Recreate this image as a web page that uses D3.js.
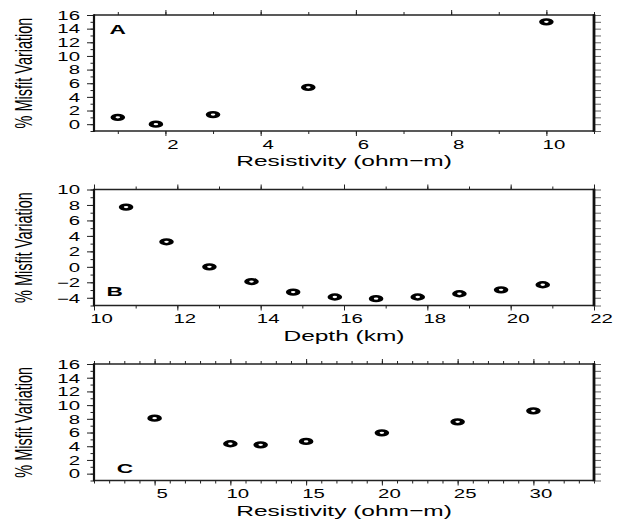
<!DOCTYPE html>
<html>
<head>
<meta charset="utf-8">
<script src="https://cdn.jsdelivr.net/npm/d3@7"></script>
<style>
body { margin: 0; background: #fff; }
svg text { font-family: "Liberation Sans", Arial, Helvetica, sans-serif; fill: #000; }
.tick line { stroke: #222; }
</style>
</head>
<body>
<script>
// data
var resA = [1.0, 1.8, 3.0, 5.0, 10.0],
    misfitA = [1.0, 0.0, 1.4, 5.4, 15.0];

var depthB = [10.77, 11.74, 12.77, 13.78, 14.78, 15.78, 16.77, 17.77, 18.77, 19.77, 20.77],
    misfitB = [7.73, 3.24, 0.0, -1.9, -3.27, -3.9, -4.12, -3.9, -3.48, -2.97, -2.32];

var resC = [5, 10, 12, 15, 20, 25, 30],
    misfitC = [8.1, 4.36, 4.2, 4.7, 5.96, 7.56, 9.16];

// tick labels
var xTicksA = [2, 4, 6, 8, 10],
    xTicksB = [10, 12, 14, 16, 18, 20, 22],
    xTicksC = [5, 10, 15, 20, 25, 30];
var yTicksAC = [0, 2, 4, 6, 8, 10, 12, 14, 16],
    yTicksB = [-4, -2, 0, 2, 4, 6, 8, 10];

var panelLetters = ["A", "B", "C"];
var xTitles = ["Resistivity (ohm\u2212m)", "Depth (km)", "Resistivity (ohm\u2212m)"];
var yTitle = "% Misfit Variation";

// page / frame dimensions
var width = 622, height = 520,
    frameLeft = 94, frameRight = 594,
    textStretch = 1.7; // the figure is stretched horizontally

var panels = [
    {x: resA, y: misfitA, xDom: [0.5, 11], yDom: [-1, 16], xTicks: xTicksA, yTicks: yTicksAC,
     top: 15, bottom: 131, letterPos: [117.7, 33.5]},
    {x: depthB, y: misfitB, xDom: [10, 22], yDom: [-5, 10], xTicks: xTicksB, yTicks: yTicksB,
     top: 189.5, bottom: 305.5, letterPos: [114.7, 295.5]},
    {x: resC, y: misfitC, xDom: [1, 34], yDom: [-1, 16], xTicks: xTicksC, yTicks: yTicksAC,
     top: 364, bottom: 480.5, letterPos: [125, 472.5]}
];

var svg = d3.select("body")
    .append("svg")
    .attr("width", width)
    .attr("height", height);

panels.forEach(function(p, i){
    drawPanel(p, i);
});

function cleanAxis(g){
    g.select(".domain").remove();
    g.attr("font-family", null).attr("font-size", null);
}

function intRange(dom){
    return d3.range(Math.ceil(dom[0]), Math.floor(dom[1]) + 1);
}

function drawPanel(p, i){
    var x = d3.scaleLinear().domain(p.xDom).range([frameLeft, frameRight]);
    var y = d3.scaleLinear().domain(p.yDom).range([p.bottom, p.top]);

    var g = svg.append("g").attr("class", "panel panel" + i);

    var xMinor = intRange(p.xDom),
        yMinor = intRange(p.yDom);

    // bottom axis: minor ticks then labelled ticks
    g.append("g")
        .attr("transform", "translate(0," + p.bottom + ")")
        .call(d3.axisBottom(x).tickValues(xMinor).tickSize(3).tickFormat(""))
        .call(cleanAxis);

    var bx = g.append("g")
        .attr("transform", "translate(0," + p.bottom + ")")
        .call(d3.axisBottom(x).tickValues(p.xTicks).tickSize(5).tickFormat(d3.format("d")))
        .call(cleanAxis);
    bx.selectAll("text")
        .attr("y", null)
        .attr("dy", null)
        .style("font-size", "12px")
        .attr("transform", "translate(7,17.5) scale(" + textStretch + ",1)");

    // top axis, ticks only
    g.append("g")
        .attr("transform", "translate(0," + p.top + ")")
        .call(d3.axisTop(x).tickValues(xMinor).tickSize(3).tickFormat(""))
        .call(cleanAxis);
    g.append("g")
        .attr("transform", "translate(0," + p.top + ")")
        .call(d3.axisTop(x).tickValues(p.xTicks).tickSize(5).tickFormat(""))
        .call(cleanAxis);

    // left axis
    g.append("g")
        .attr("transform", "translate(" + frameLeft + ",0)")
        .call(d3.axisLeft(y).tickValues(yMinor).tickSize(3.5).tickFormat(""))
        .call(cleanAxis);

    var ly = g.append("g")
        .attr("transform", "translate(" + frameLeft + ",0)")
        .call(d3.axisLeft(y).tickValues(p.yTicks).tickSize(7).tickFormat(d3.format("d")))
        .call(cleanAxis);
    ly.selectAll("text")
        .attr("x", null)
        .attr("dy", "0.36em")
        .style("font-size", "12px")
        .attr("transform", "translate(-14,0) scale(" + textStretch + ",1)");

    // right axis, ticks every unit
    var ry = g.append("g")
        .attr("transform", "translate(" + frameRight + ",0)")
        .call(d3.axisRight(y).tickValues(yMinor).tickSize(7).tickFormat(""))
        .call(cleanAxis);
    ry.selectAll("line").style("stroke", "#666");

    // frame
    g.append("line")
        .attr("x1", frameLeft).attr("x2", frameRight)
        .attr("y1", p.top).attr("y2", p.top)
        .attr("stroke", "#222").attr("stroke-width", 1.5);
    g.append("line")
        .attr("x1", frameLeft).attr("x2", frameRight)
        .attr("y1", p.bottom).attr("y2", p.bottom)
        .attr("stroke", "#222").attr("stroke-width", 1.5);
    g.append("line")
        .attr("x1", frameLeft).attr("x2", frameLeft)
        .attr("y1", p.top - 0.75).attr("y2", p.bottom + 0.75)
        .attr("stroke", "#111").attr("stroke-width", 2.2);
    g.append("line")
        .attr("x1", frameRight).attr("x2", frameRight)
        .attr("y1", p.top - 0.75).attr("y2", p.bottom + 0.75)
        .attr("stroke", "#111").attr("stroke-width", 2.8);

    // markers: open rings, squashed like the original
    g.selectAll(".pt")
        .data(p.x.map(function(d, k){ return [d, p.y[k]]; }))
        .enter()
        .append("circle")
        .attr("class", "pt")
        .attr("r", 2.4)
        .attr("transform", function(d){
            return "translate(" + x(d[0]) + "," + y(d[1]) + ") scale(2,1)";
        })
        .attr("fill", "#fff")
        .attr("stroke", "#000")
        .attr("stroke-width", 2.5);

    // panel letter
    g.append("text")
        .attr("text-anchor", "middle")
        .style("font-size", "13px")
        .style("font-weight", "bold")
        .attr("transform", "translate(" + p.letterPos[0] + "," + p.letterPos[1] + ") scale(1.75,1)")
        .text(panelLetters[i]);

    // x title
    g.append("text")
        .attr("text-anchor", "middle")
        .style("font-size", "15.5px")
        .attr("transform", "translate(" + (frameLeft + frameRight) / 2 + "," + (p.bottom + 35) + ") scale(1.58,1)")
        .text(xTitles[i]);

    // y title
    g.append("text")
        .attr("text-anchor", "middle")
        .attr("dominant-baseline", "central")
        .style("font-size", "14.5px")
        .attr("transform", "translate(24," + (p.top + p.bottom) / 2 + ") rotate(-90) scale(1,1.6)")
        .text(yTitle);
}
</script>
</body>
</html>
